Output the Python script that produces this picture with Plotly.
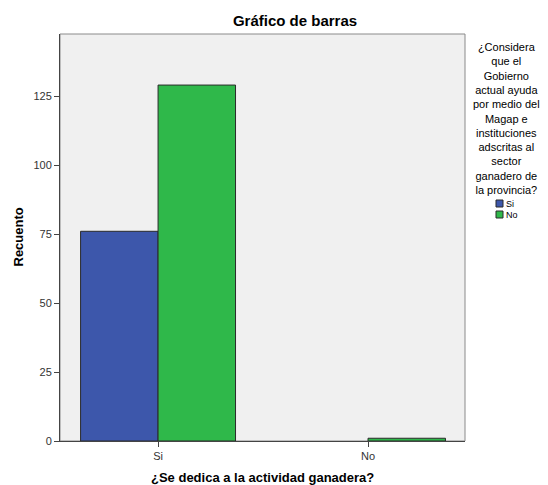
import plotly.graph_objects as go

# Counts by answer to "¿Se dedica a la actividad ganadera?" (x) split by
# opinion about government support (series)
categories = ["Si", "No"]
series_names = ["Si", "No"]
counts_si = [76, 0]
counts_no = [129, 1]
series_colors = ["#3d57ab", "#2fb84a"]

y_ticks = [0, 25, 50, 75, 100, 125]

legend_title_lines = [
    "¿Considera", "que el", "Gobierno", "actual ayuda", "por medio del",
    "Magap e", "instituciones", "adscritas al", "sector", "ganadero de",
    "la provincia?",
]

W, H = 548, 485
L, R, T, B = 60, 83, 34, 44
plot_h = H - T - B

font_family = "Liberation Sans, Arial, sans-serif"

fig = go.Figure()
for name, vals, color in zip(series_names, [counts_si, counts_no], series_colors):
    fig.add_trace(go.Bar(
        x=categories, y=vals, name=name,
        marker=dict(color=color,
                    line=dict(color="#2a2a2a",
                              width=[1 if v > 0 else 0 for v in vals])),
        showlegend=False,
    ))


def py(pixel_y):
    """Convert a page pixel row to paper y."""
    return (H - B - pixel_y) / plot_h


def px(pixel_x):
    return (pixel_x - L) / (W - L - R)


annotations = [
    dict(text="<b>Recuento</b>", x=px(18), y=0.5, xref="paper", yref="paper",
         xanchor="center", yanchor="middle",
         textangle=-90, showarrow=False, font=dict(size=13, color="#000")),
    dict(text="<b>¿Se dedica a la actividad ganadera?</b>", x=0.5, y=py(477),
         xref="paper", yref="paper", xanchor="center", yanchor="middle",
         showarrow=False, font=dict(size=13, color="#000")),
    dict(text="<br>".join(legend_title_lines), x=px(507), y=py(39),
         xref="paper", yref="paper", xanchor="center", yanchor="top",
         align="center", showarrow=False, font=dict(size=11, color="#000")),
]

shapes = []
# legend swatches and labels
for i, (name, color) in enumerate(zip(series_names, series_colors)):
    cy = 203.5 + 11 * i
    shapes.append(dict(type="rect", xref="paper", yref="paper",
                       x0=px(496), x1=px(503), y0=py(cy + 3.5), y1=py(cy - 3.5),
                       fillcolor=color, line=dict(color="#2a2a2a", width=1)))
    annotations.append(dict(text=name, x=px(504), y=py(cy), xref="paper",
                            yref="paper", xanchor="left", yanchor="middle",
                            showarrow=False, font=dict(size=9, color="#000")))

fig.update_layout(
    width=W, height=H,
    margin=dict(l=L, r=R, t=T, b=B, pad=0),
    paper_bgcolor="white",
    plot_bgcolor="#f0f0f0",
    font=dict(family=font_family, size=11, color="#333"),
    barmode="group",
    bargap=0.262,
    bargroupgap=0,
    title=dict(text="<b>Gráfico de barras</b>", x=295 / W, xanchor="center",
               y=1 - 21 / H, yanchor="middle",
               font=dict(size=15, color="#000")),
    xaxis=dict(
        type="category", range=[-0.467, 1.462],
        showgrid=False, zeroline=False,
        showline=True, linecolor="#444", linewidth=1, mirror=False,
        ticks="outside", ticklen=5, tickcolor="#444",
        tickfont=dict(size=11, color="#333"),
    ),
    yaxis=dict(
        range=[0, 147.5], tickvals=y_ticks,
        showgrid=False, zeroline=False,
        showline=True, linecolor="#444", linewidth=1,
        ticks="outside", ticklen=5, tickcolor="#444",
        tickfont=dict(size=11, color="#333"),
    ),
    annotations=annotations,
    shapes=shapes + [
        # frame on the top and right of the plotting area
        dict(type="rect", xref="paper", yref="paper", x0=0, x1=1, y0=0, y1=1,
             line=dict(color="#8a8a8a", width=1), layer="below"),
    ],
)

fig.write_html("out.html")
